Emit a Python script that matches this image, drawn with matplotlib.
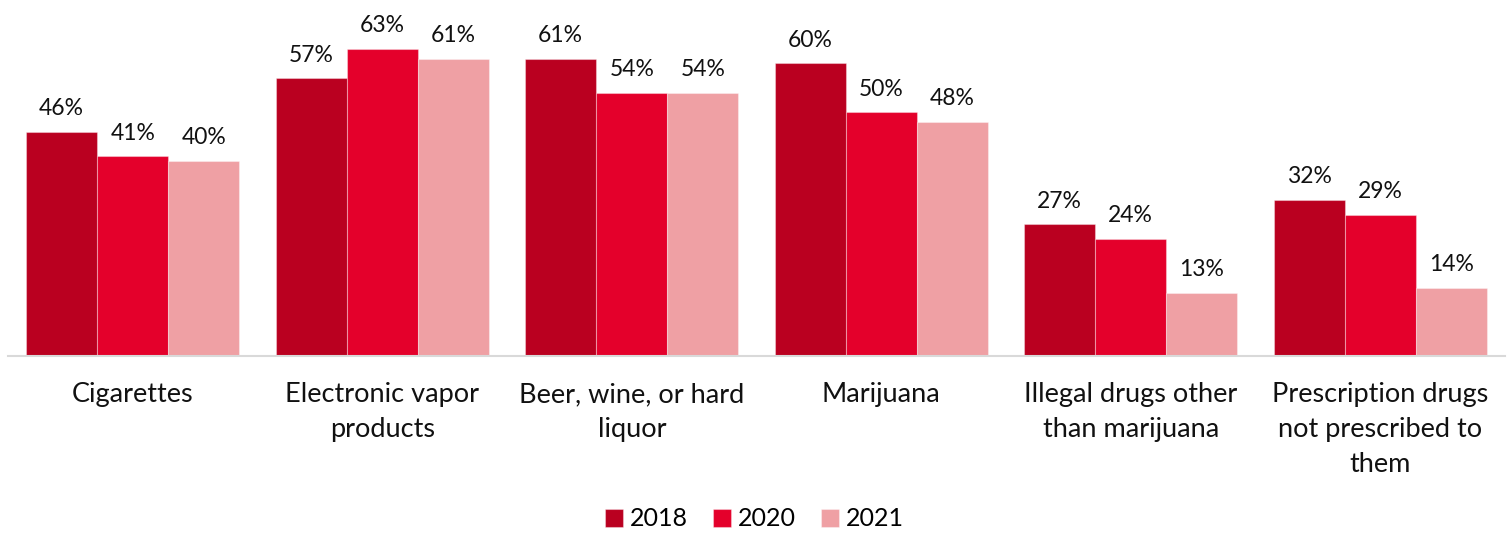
import matplotlib
matplotlib.use("Agg")
import matplotlib.pyplot as plt
import numpy as np

categories = ["Cigarettes", "Electronic vapor\nproducts", "Beer, wine, or hard\nliquor", "Marijuana",
              "Illegal drugs other\nthan marijuana", "Prescription drugs\nnot prescribed to\nthem"]
years = ["2018", "2020", "2021"]
v2018 = [46, 57, 61, 60, 27, 32]
v2020 = [41, 63, 54, 50, 24, 29]
v2021 = [40, 61, 54, 48, 13, 14]
colors = ["#BA0020", "#E4002B", "#EFA0A4"]

plt.rcParams['font.family'] = ['Lato', 'DejaVu Sans']

fig = plt.figure(figsize=(15.09, 5.33), dpi=100)
ax = fig.add_axes([8/1509, 1-356/533, 1497/1509, 356/533])

x = np.arange(len(categories))
w = 0.285
for i, (vals, yr, c) in enumerate(zip([v2018, v2020, v2021], years, colors)):
    bars = ax.bar(x + (i-1)*w, vals, w, color=c, label=yr, edgecolor=(1,1,1,0.35), linewidth=0.8)
    for b, v in zip(bars, vals):
        ax.annotate(f"{v}%", (b.get_x()+b.get_width()/2, v), xytext=(0, 9), textcoords="offset points",
                    ha="center", va="bottom", fontsize=16.5, color="#111111")

ax.set_xlim(-0.5, 5.5)
ax.set_ylim(0, 73)
ax.set_yticks([])
ax.set_xticks(x)
ax.set_xticklabels(categories, fontsize=19.5, color="#111111", linespacing=1.5)
ax.tick_params(axis='x', length=0, pad=19)
for s in ["top", "right", "left"]:
    ax.spines[s].set_visible(False)
ax.spines["bottom"].set_color("#D9D9D9")
ax.spines["bottom"].set_linewidth(1.5)

leg = fig.legend(loc="center", bbox_to_anchor=(0.5, 1-519/533), ncol=3, frameon=False, fontsize=18,
                 handlelength=0.7, handleheight=0.7, handletextpad=0.3, columnspacing=1.0)

fig.savefig("out.png", dpi=100)
